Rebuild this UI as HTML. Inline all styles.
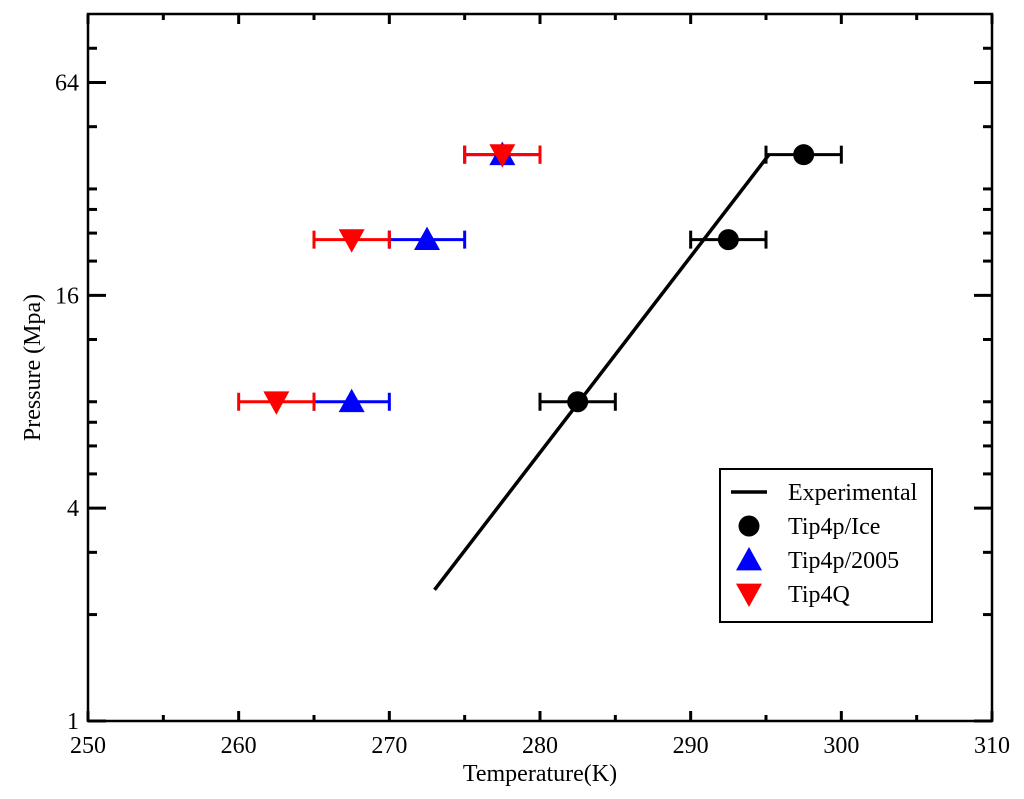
<!DOCTYPE html>
<html><head><meta charset="utf-8"><style>
html,body{margin:0;padding:0;background:#fff;}
svg{display:block;font-family:"Liberation Serif",serif;}
</style></head><body>
<svg id="chart" width="1024" height="799" viewBox="0 0 1024 799" xmlns="http://www.w3.org/2000/svg"></svg>
<script>
const xTicks=[250,260,270,280,290,300,310];
const yTicks=[1,4,16,64];
const yMinorTicks=[2,3,5,6,7,8,12,20,24,28,32,48,80];
const expT=[273,295.2];
const expP=[2.35,40];
const iceT=[282.5,292.5,297.5];
const iceP=[8,23,40];
const t2005T=[267.5,272.5,277.5];
const t2005P=[8,23,40];
const t4qT=[262.5,267.5,277.5];
const t4qP=[8,23,40];
const errX=2.5;

const L=88,R=992,T=14,B=721;
const xMin=250,xMax=310,yMin=1,yMax=100;
const sx=v=>L+(v-xMin)/(xMax-xMin)*(R-L);
const sy=v=>B-(Math.log2(v)-Math.log2(yMin))/(Math.log2(yMax)-Math.log2(yMin))*(B-T);
const svg=document.getElementById('chart');
const NS='http://www.w3.org/2000/svg';
function mk(tag,attrs,parent){const e=document.createElementNS(NS,tag);for(const k in attrs)e.setAttribute(k,attrs[k]);(parent||svg).appendChild(e);return e;}

let fr=mk('rect',{x:L,y:T,width:R-L,height:B-T,fill:'none',stroke:'#000','stroke-width':2.5});



for(let v=xMin;v<=xMax;v+=5){
  const major=v%10===0, len=major?10:6, x=sx(v);
  let t=mk('line',{x1:x,x2:x,y1:B,y2:B-len,stroke:'#000','stroke-width':3});
  
  
  let t2=mk('line',{x1:x,x2:x,y1:T,y2:T+len,stroke:'#000','stroke-width':3});
  
  
}
xTicks.forEach(v=>{
  let tx=mk('text',{x:sx(v),y:B+32,'font-size':24,'text-anchor':'middle',fill:'#000'});
  tx.textContent=v;
  
  
});
yMinorTicks.forEach(v=>{
  const y=sy(v);
  let t=mk('line',{x1:L,x2:L+9,y1:y,y2:y,stroke:'#000','stroke-width':3});
  
  
  let t2=mk('line',{x1:R,x2:R-9,y1:y,y2:y,stroke:'#000','stroke-width':3});
  
  
});
yTicks.forEach(b=>{
  const y=sy(b);
  let t=mk('line',{x1:L,x2:L+18,y1:y,y2:y,stroke:'#000','stroke-width':3});
  
  
  let t2=mk('line',{x1:R,x2:R-18,y1:y,y2:y,stroke:'#000','stroke-width':3});
  
  
  let tx=mk('text',{x:L-9,y:y+8,'font-size':24,'text-anchor':'end',fill:'#000'});
  tx.textContent=b;
  
  
});
let xt=mk('text',{x:(L+R)/2,y:781,'font-size':24,'text-anchor':'middle',fill:'#000'});
xt.textContent='Temperature(K)';


let yt=mk('text',{x:40,y:(T+B)/2,'font-size':24,'text-anchor':'middle',fill:'#000',transform:`rotate(-90 40 ${(T+B)/2})`});
yt.textContent='Pressure (Mpa)';



let el=mk('line',{x1:sx(expT[0]),y1:sy(expP[0]),x2:sx(expT[1]),y2:sy(expP[1]),stroke:'#000','stroke-width':3.5});



function errbar(t,p,c){
  const y=sy(p),x1=sx(t-errX),x2=sx(t+errX);
  const g=mk('g',{stroke:c,'stroke-width':3});
  
  
  mk('line',{x1:x1,x2:x2,y1:y,y2:y},g);
  mk('line',{x1:x1,x2:x1,y1:y-9,y2:y+9},g);
  mk('line',{x1:x2,x2:x2,y1:y-9,y2:y+9},g);
}
function tri(x,y,up){const s=13;return up?`${x},${y-s} ${x-s},${y+s*0.8} ${x+s},${y+s*0.8}`:`${x},${y+s} ${x-s},${y-s*0.8} ${x+s},${y-s*0.8}`;}

iceT.forEach((t,i)=>errbar(t,iceP[i],'#000'));
t2005T.forEach((t,i)=>errbar(t,t2005P[i],'#00f'));
t4qT.forEach((t,i)=>errbar(t,t4qP[i],'#f00'));
iceT.forEach((t,i)=>{let c=mk('circle',{cx:sx(t),cy:sy(iceP[i]),r:10.5,fill:'#000'});
  
  });
t2005T.forEach((t,i)=>{let p=mk('polygon',{points:tri(sx(t),sy(t2005P[i]),true),fill:'#00f'});
  
  });
t4qT.forEach((t,i)=>{let p=mk('polygon',{points:tri(sx(t),sy(t4qP[i]),false),fill:'#f00'});
  
  });

const lg=mk('g',{});


mk('rect',{x:720,y:469,width:212,height:153,fill:'#fff',stroke:'#000','stroke-width':2},lg);
const names=['Experimental','Tip4p/Ice','Tip4p/2005','Tip4Q'];
const ys=[492,526,560,594];
names.forEach((n,i)=>{
  const y=ys[i];
  const g=mk('g',{},lg);
  
  
  if(i===0)mk('line',{x1:731,x2:767,y1:y,y2:y,stroke:'#000','stroke-width':3.5},g);
  if(i===1)mk('circle',{cx:749,cy:y,r:10.5,fill:'#000'},g);
  if(i===2)mk('polygon',{points:tri(749,y,true),fill:'#00f'},g);
  if(i===3)mk('polygon',{points:tri(749,y,false),fill:'#f00'},g);
  const tx=mk('text',{x:788,y:y+8,'font-size':24,fill:'#000'},g);
  tx.textContent=n;
});
</script>
</body></html>
